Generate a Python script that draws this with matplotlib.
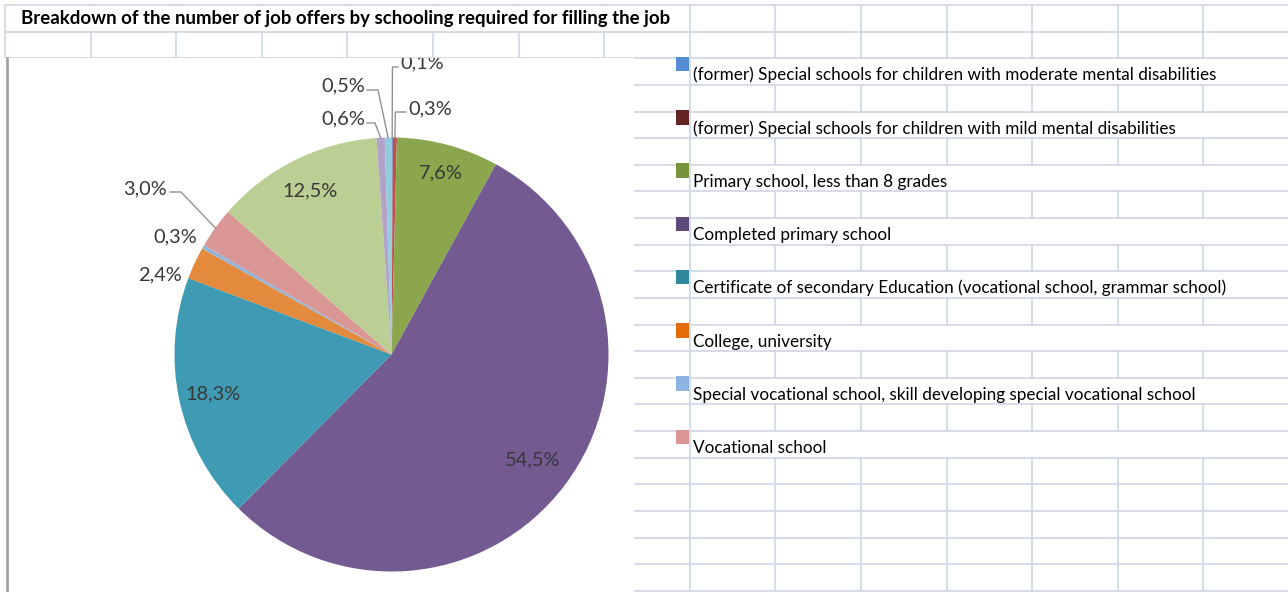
import matplotlib
matplotlib.use("Agg")
import matplotlib.pyplot as plt
from matplotlib.patches import Rectangle
import numpy as np

# ---- data -------------------------------------------------------------
title = "Breakdown of the number of job offers by schooling required for filling the job"

legend_labels = [
    "(former) Special schools for children with moderate mental disabilities",
    "(former) Special schools for children with mild mental disabilities",
    "Primary school, less than 8 grades",
    "Completed primary school",
    "Certificate of secondary Education (vocational school, grammar school)",
    "College, university",
    "Special vocational school, skill developing special vocational school",
    "Vocational school",
]

# share of job offers (%), clockwise from 12 o'clock
shares = [0.1, 0.3, 7.6, 54.5, 18.3, 2.4, 0.3, 3.0, 12.5, 0.6, 0.5]

slice_colors = ["#558ED5", "#C0504D", "#8BA64C", "#735A91", "#3F9AB3",
                "#E38A3C", "#95B3D7", "#D99694", "#BBCF95", "#B3A2C7", "#93CDDD"]
legend_colors = ["#558ED5", "#632523", "#77933C", "#5F497A",
                 "#31859C", "#E46C0A", "#8EB4E3", "#D99694"]

# ---- page geometry (pixels, y measured downward) -----------------------
W, H = 1288, 592
COL0, COLW = 5.0, 85.6
ROW0, ROWH = 5.0, 26.63
CHART_RIGHT, CHART_TOP = 634.0, 57.5
CX, CY, R = 391.5, 354.5, 217.0
GRID = "#D0D7E5"
FONT = "Lato"
TXT = "#383838"

fig = plt.figure(figsize=(W / 100, H / 100), dpi=100)
fig.patch.set_facecolor("white")
renderer = fig.canvas.get_renderer()

bg = fig.add_axes([0, 0, 1, 1])
bg.set_xlim(0, W)
bg.set_ylim(H, 0)
bg.axis("off")

# worksheet grid
col_x = [COL0 + COLW * j for j in range(16)]
row_y = [ROW0 + ROWH * k for k in range(23)]
for y in row_y:
    bg.plot([COL0, W], [y, y], color=GRID, lw=1.25, solid_capstyle="butt", zorder=1)
for x in col_x:
    bg.plot([x, x], [ROW0, H], color=GRID, lw=1.25, solid_capstyle="butt", zorder=1)

# merged title cell
bg.add_patch(Rectangle((COL0 + 1, ROW0 + 1), col_x[8] - COL0 - 2, ROWH - 2,
                       facecolor="white", edgecolor="none", zorder=2))
t = bg.text((24 + 668) / 2, 18.5, title, ha="center", va="center",
            family=FONT, fontweight="bold", fontsize=12, color="black", zorder=3)
w = t.get_window_extent(renderer).width
t.set_fontsize(12 * 644 / w)

# legend rows
legend_size = 10
leg_texts = []
for i, (lab, col) in enumerate(zip(legend_labels, legend_colors)):
    top = row_y[2 + 2 * i]
    bg.add_patch(Rectangle((col_x[8] + 1, top + 1), W - col_x[8], ROWH - 2,
                           facecolor="white", edgecolor="none", zorder=2))
    bg.add_patch(Rectangle((676, top - 1.5), 13, 14.5, facecolor=col,
                           edgecolor="none", zorder=3))
    leg_texts.append(bg.text(693, top + 22, lab, ha="left", va="baseline",
                             family=FONT, fontsize=legend_size, color="black", zorder=3))
w = leg_texts[0].get_window_extent(renderer).width
for lt in leg_texts:
    lt.set_fontsize(legend_size * 522 / w)

# chart area
bg.add_patch(Rectangle((4, CHART_TOP), CHART_RIGHT - 4, H - CHART_TOP,
                       facecolor="white", edgecolor="none", zorder=4))
bg.plot([7, 7], [CHART_TOP, H], color="#A0A0A0", lw=1.9, zorder=5)

# ---- pie --------------------------------------------------------------
ax = fig.add_axes([8 / W, 0, (CHART_RIGHT - 8) / W, (H - CHART_TOP) / H])
ax.set_zorder(6)
ax.patch.set_visible(False)
wedges, _ = ax.pie(shares, colors=slice_colors, startangle=90, counterclock=False,
                   center=(CX, H - CY), radius=R,
                   wedgeprops=dict(linewidth=0, antialiased=True))
ax.set_xlim(8, CHART_RIGHT)
ax.set_ylim(0, H - CHART_TOP)
ax.set_aspect("auto")
ax.axis("off")


def fmt(v):
    return f"{v:.1f}%".replace(".", ",")


def mid_point(wedge, frac):
    a = np.deg2rad((wedge.theta1 + wedge.theta2) / 2)
    return CX + frac * R * np.cos(a), (H - CY) + frac * R * np.sin(a)


# labels placed inside the larger slices (radial fraction of the radius)
inside = {2: 0.867, 3: 0.81, 4: 0.84, 8: 0.84}
# labels outside: (text x, text y, alignment, leader elbow points) in page pixels
outside = {
    0: (400, 62.5, "left", [(392.4, 67), (398, 67)]),
    1: (408, 109, "left", [(395.3, 112), (406, 112)]),
    10: (365, 86, "right", [(378, 90), (367, 90)]),
    9: (365, 119, "right", [(375, 123), (367, 123)]),
    7: (167, 188.5, "right", [(181, 192), (170, 192)]),
    6: (197, 237, "right", []),
    5: (182, 275, "right", []),
}

label_texts = []
for i, frac in inside.items():
    x, y = mid_point(wedges[i], frac)
    label_texts.append(ax.text(x, y, fmt(shares[i]), ha="center", va="center",
                               family=FONT, fontsize=13, color=TXT, clip_on=True))
for i, (tx, ty, ha, elbows) in outside.items():
    label_texts.append(ax.text(tx, H - ty, fmt(shares[i]), ha=ha, va="center",
                               family=FONT, fontsize=13, color=TXT, clip_on=True))
    if elbows:
        sx, sy = mid_point(wedges[i], 1.0)
        xs = [sx] + [p[0] for p in elbows]
        ys = [sy] + [H - p[1] for p in elbows]
        ax.plot(xs, ys, color="#8C8C8C", lw=0.95, clip_on=True,
                solid_joinstyle="miter")

ref = label_texts[3]  # "12,5%"
w = ref.get_window_extent(renderer).width
size = 13 * 55 / w
for lt in label_texts:
    lt.set_fontsize(size)

fig.savefig("out.png", dpi=100, facecolor="white")
